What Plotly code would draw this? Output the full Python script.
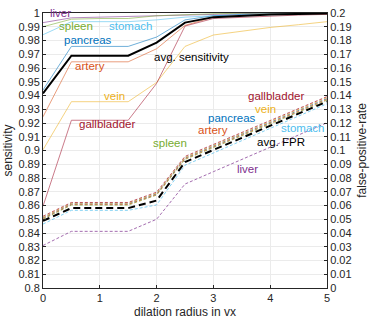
import plotly.graph_objects as go

# dilation radius (vx)
radius = [0, 0.5, 1, 1.5, 2, 2.5, 3, 3.5, 4, 4.5, 5]

organs = ["liver", "spleen", "stomach", "pancreas", "artery", "vein", "gallbladder"]

# sensitivity per organ (left axis)
sens_liver = [0.993, 0.9965, 0.997, 0.9975, 0.998, 0.999, 0.9995, 1.0, 1.0, 1.0, 1.0]
sens_spleen = [0.990, 0.9955, 0.996, 0.996, 0.998, 0.999, 0.9995, 0.9998, 1.0, 1.0, 1.0]
sens_stomach = [0.9842, 0.9937, 0.9937, 0.9937, 0.995, 0.997, 0.998, 0.9985, 0.999, 0.9995, 0.9997]
sens_pancreas = [0.944, 0.9757, 0.9757, 0.9757, 0.9825, 0.995, 0.998, 0.999, 0.9993, 0.9995, 0.9997]
sens_artery = [0.9245, 0.9645, 0.9645, 0.9645, 0.974, 0.991, 0.997, 0.998, 0.999, 0.9993, 0.9995]
sens_vein = [0.9005, 0.9355, 0.9355, 0.9355, 0.9495, 0.9757, 0.984, 0.987, 0.9895, 0.9915, 0.9937]
sens_gallbladder = [0.8595, 0.922, 0.922, 0.922, 0.9488, 0.9905, 0.996, 0.997, 0.998, 0.9985, 0.999]
sens_avg = [0.9415, 0.969, 0.969, 0.969, 0.9785, 0.993, 0.997, 0.998, 0.999, 0.9993, 0.9996]

# false-positive-rate per organ (right axis)
fpr_liver = [0.0309, 0.0412, 0.0412, 0.0412, 0.050, 0.0756, 0.0846, 0.0935, 0.1024, 0.1113, 0.1202]
fpr_spleen = [0.0500, 0.0603, 0.0603, 0.0603, 0.0676, 0.0935, 0.1021, 0.1107, 0.1193, 0.1280, 0.1366]
fpr_stomach = [0.0465, 0.0565, 0.0565, 0.0565, 0.0604, 0.0893, 0.0982, 0.1071, 0.1160, 0.1250, 0.1340]
fpr_pancreas = [0.0510, 0.0612, 0.0612, 0.0612, 0.0685, 0.0945, 0.1032, 0.1118, 0.1205, 0.1291, 0.1378]
fpr_artery = [0.0505, 0.0608, 0.0608, 0.0608, 0.0680, 0.0940, 0.1026, 0.1113, 0.1199, 0.1286, 0.1372]
fpr_vein = [0.0515, 0.0617, 0.0617, 0.0617, 0.0690, 0.0950, 0.1037, 0.1124, 0.1211, 0.1298, 0.1385]
fpr_gallbladder = [0.0522, 0.0622, 0.0622, 0.0622, 0.0697, 0.0957, 0.1044, 0.1131, 0.1218, 0.1305, 0.1392]
fpr_avg = [0.0488, 0.0581, 0.0581, 0.0581, 0.0636, 0.0916, 0.1004, 0.1092, 0.1180, 0.1268, 0.1356]

colors = {
    "liver": "#7E2F8E", "spleen": "#77AC30", "stomach": "#4DBEEE",
    "pancreas": "#0072BD", "artery": "#D95319", "vein": "#EDB120",
    "gallbladder": "#A2142F",
}
sens = {"liver": sens_liver, "spleen": sens_spleen, "stomach": sens_stomach,
        "pancreas": sens_pancreas, "artery": sens_artery, "vein": sens_vein,
        "gallbladder": sens_gallbladder}
fpr = {"liver": fpr_liver, "spleen": fpr_spleen, "stomach": fpr_stomach,
       "pancreas": fpr_pancreas, "artery": fpr_artery, "vein": fpr_vein,
       "gallbladder": fpr_gallbladder}

# label positions (x, value) for the sensitivity and fpr labels
sens_label_pos = {"liver": (0.3, 0.9997), "spleen": (0.58, 0.9907), "stomach": (1.54, 0.9907),
                  "pancreas": (0.8, 0.9803), "artery": (0.83, 0.9615), "vein": (1.25, 0.9398),
                  "gallbladder": (1.12, 0.919)}
fpr_label_pos = {"gallbladder": (4.1, 0.1393), "vein": (3.91, 0.1300), "pancreas": (3.32, 0.1240),
                 "artery": (3.0, 0.1148), "stomach": (4.56, 0.1162), "spleen": (2.24, 0.1056),
                 "liver": (3.6, 0.0868)}

fig = go.Figure()

for org in organs:
    fig.add_trace(go.Scatter(x=radius, y=sens[org], mode="lines", yaxis="y",
                             line=dict(color=colors[org], width=0.8), opacity=0.7,
                             showlegend=False))
    fig.add_trace(go.Scatter(x=radius, y=fpr[org], mode="lines", yaxis="y2",
                             line=dict(color=colors[org], width=1, dash="3px,2px"), opacity=0.7,
                             showlegend=False))

fig.add_trace(go.Scatter(x=radius, y=sens_avg, mode="lines", yaxis="y",
                         line=dict(color="black", width=2), showlegend=False))
fig.add_trace(go.Scatter(x=radius, y=fpr_avg, mode="lines", yaxis="y2",
                         line=dict(color="black", width=2, dash="7px,4px"), showlegend=False))

font_ann = dict(family="Liberation Sans, Arial, sans-serif", size=11.5)
for org, (px, py) in sens_label_pos.items():
    fig.add_annotation(x=px, y=py, yref="y", text=org, showarrow=False,
                       font=dict(font_ann, color=colors[org]))
for org, (px, py) in fpr_label_pos.items():
    fig.add_annotation(x=px, y=py, yref="y2", text=org, showarrow=False,
                       font=dict(font_ann, color=colors[org]))
fig.add_annotation(x=2.61, y=0.9677, yref="y", text="avg. sensitivity", showarrow=False,
                   font=dict(font_ann, color="black"))
fig.add_annotation(x=4.19, y=0.1063, yref="y2", text="avg. FPR", showarrow=False,
                   font=dict(font_ann, color="black"))

axis_common = dict(showline=True, linecolor="#262626", linewidth=1, ticks="inside", ticklen=3,
                   tickcolor="#262626", showgrid=True, gridcolor="#ebebeb", gridwidth=1,
                   zeroline=False, tickfont=dict(size=11, color="#262626"))

fig.update_layout(
    width=374, height=324,
    margin=dict(l=42, r=47, t=7, b=31),
    paper_bgcolor="white", plot_bgcolor="white",
    font=dict(family="Liberation Sans, Arial, sans-serif", size=11, color="#262626"),
    xaxis=dict(axis_common, range=[0, 5], dtick=1, mirror=True,
               title=dict(text="dilation radius in vx", font=dict(size=12), standoff=4)),
    yaxis=dict(axis_common, range=[0.8, 1], dtick=0.01, tickformat="~g",
               title=dict(text="sensitivity", font=dict(size=12), standoff=3)),
    yaxis2=dict(axis_common, range=[0, 0.2], dtick=0.01, tickformat="~g", overlaying="y",
                side="right", showgrid=False,
                title=dict(text="false-positive-rate", font=dict(size=12), standoff=6)),
)

fig.write_html("out.html", config={"displayModeBar": False},
               post_script="document.body.style.margin='0';")
